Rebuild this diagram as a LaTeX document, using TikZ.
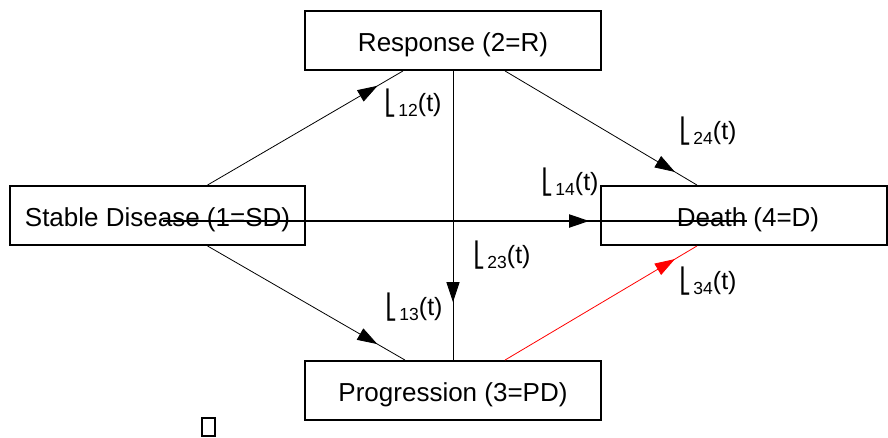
\documentclass[tikz,border=0pt]{standalone}
\usepackage{fontspec}
\setmainfont{Liberation Sans}
\newfontfamily\dejavu{DejaVu Sans}
\usetikzlibrary{arrows.meta,decorations.markings}
\newcommand\lamlab[1]{{\dejavu\fontsize{24}{26}\selectfont ⎣}\hspace{2pt}\raisebox{-5pt}{\fontsize{17.5}{19}\selectfont #1}(t)}
\begin{document}
\begin{tikzpicture}[x=1pt,y=-1pt,
 box/.style={draw,line width=1.9pt,fill=white,inner sep=0pt,text height=22.6pt,text depth=0pt,font=\fontsize{26}{30}\selectfont},
 conn/.style={line width=0.8pt},
 midarrow/.style={postaction={decorate},decoration={markings,mark=at position #1 with {\arrow{Triangle[length=20pt,width=13pt]}}}},
 lab/.style={font=\fontsize{25}{28}\selectfont,inner sep=0pt}]
\useasboundingbox (0,0) rectangle (888,437);
\node[box,minimum width=296pt,minimum height=59pt] (r) at (453,40.5) {Response (2=R)};
\node[box,minimum width=295pt,minimum height=59pt] (sd) at (157.5,215.5) {Stable Disease (1=SD)};
\node[box,minimum width=286pt,minimum height=59pt] (d) at (744,215.5) {\hspace{8pt}Death (4=D)};
\node[box,minimum width=296pt,minimum height=59pt] (p) at (453,390.5) {Progression (3=PD)};
\draw[conn,midarrow=0.87] ([xshift=50pt]sd.north) -- ([xshift=-50pt]r.south);
\draw[conn,midarrow=0.885] ([xshift=52pt]r.south) -- ([xshift=-47pt]d.north);
\draw[conn,midarrow=0.8] (r.south) -- (p.north);
\draw[conn,midarrow=0.86] ([xshift=50pt]sd.south) -- ([xshift=-48pt]p.north);
\draw[conn,red,midarrow=0.885] ([xshift=52pt]p.north) -- ([xshift=-47pt]d.south);
\draw[line width=1.9pt,midarrow=0.73] ([xshift=5pt,yshift=-5.5pt]sd.center) -- ([xshift=3pt,yshift=-5.5pt]d.center);
\node[lab] (l12) at (413,103) {\lamlab{12}};
\node[lab] (l24) at (708,131) {\lamlab{24}};
\node[lab] (l14) at (570,182) {\lamlab{14}};
\node[lab] (l23) at (502,255) {\lamlab{23}};
\node[lab] (l13) at (414,307) {\lamlab{13}};
\node[lab] (l34) at (708,281) {\lamlab{34}};
\node[draw,line width=1.2pt,minimum width=13pt,minimum height=18pt,inner sep=0pt] (sq) at (208.5,427) {};
\end{tikzpicture}
\end{document}
